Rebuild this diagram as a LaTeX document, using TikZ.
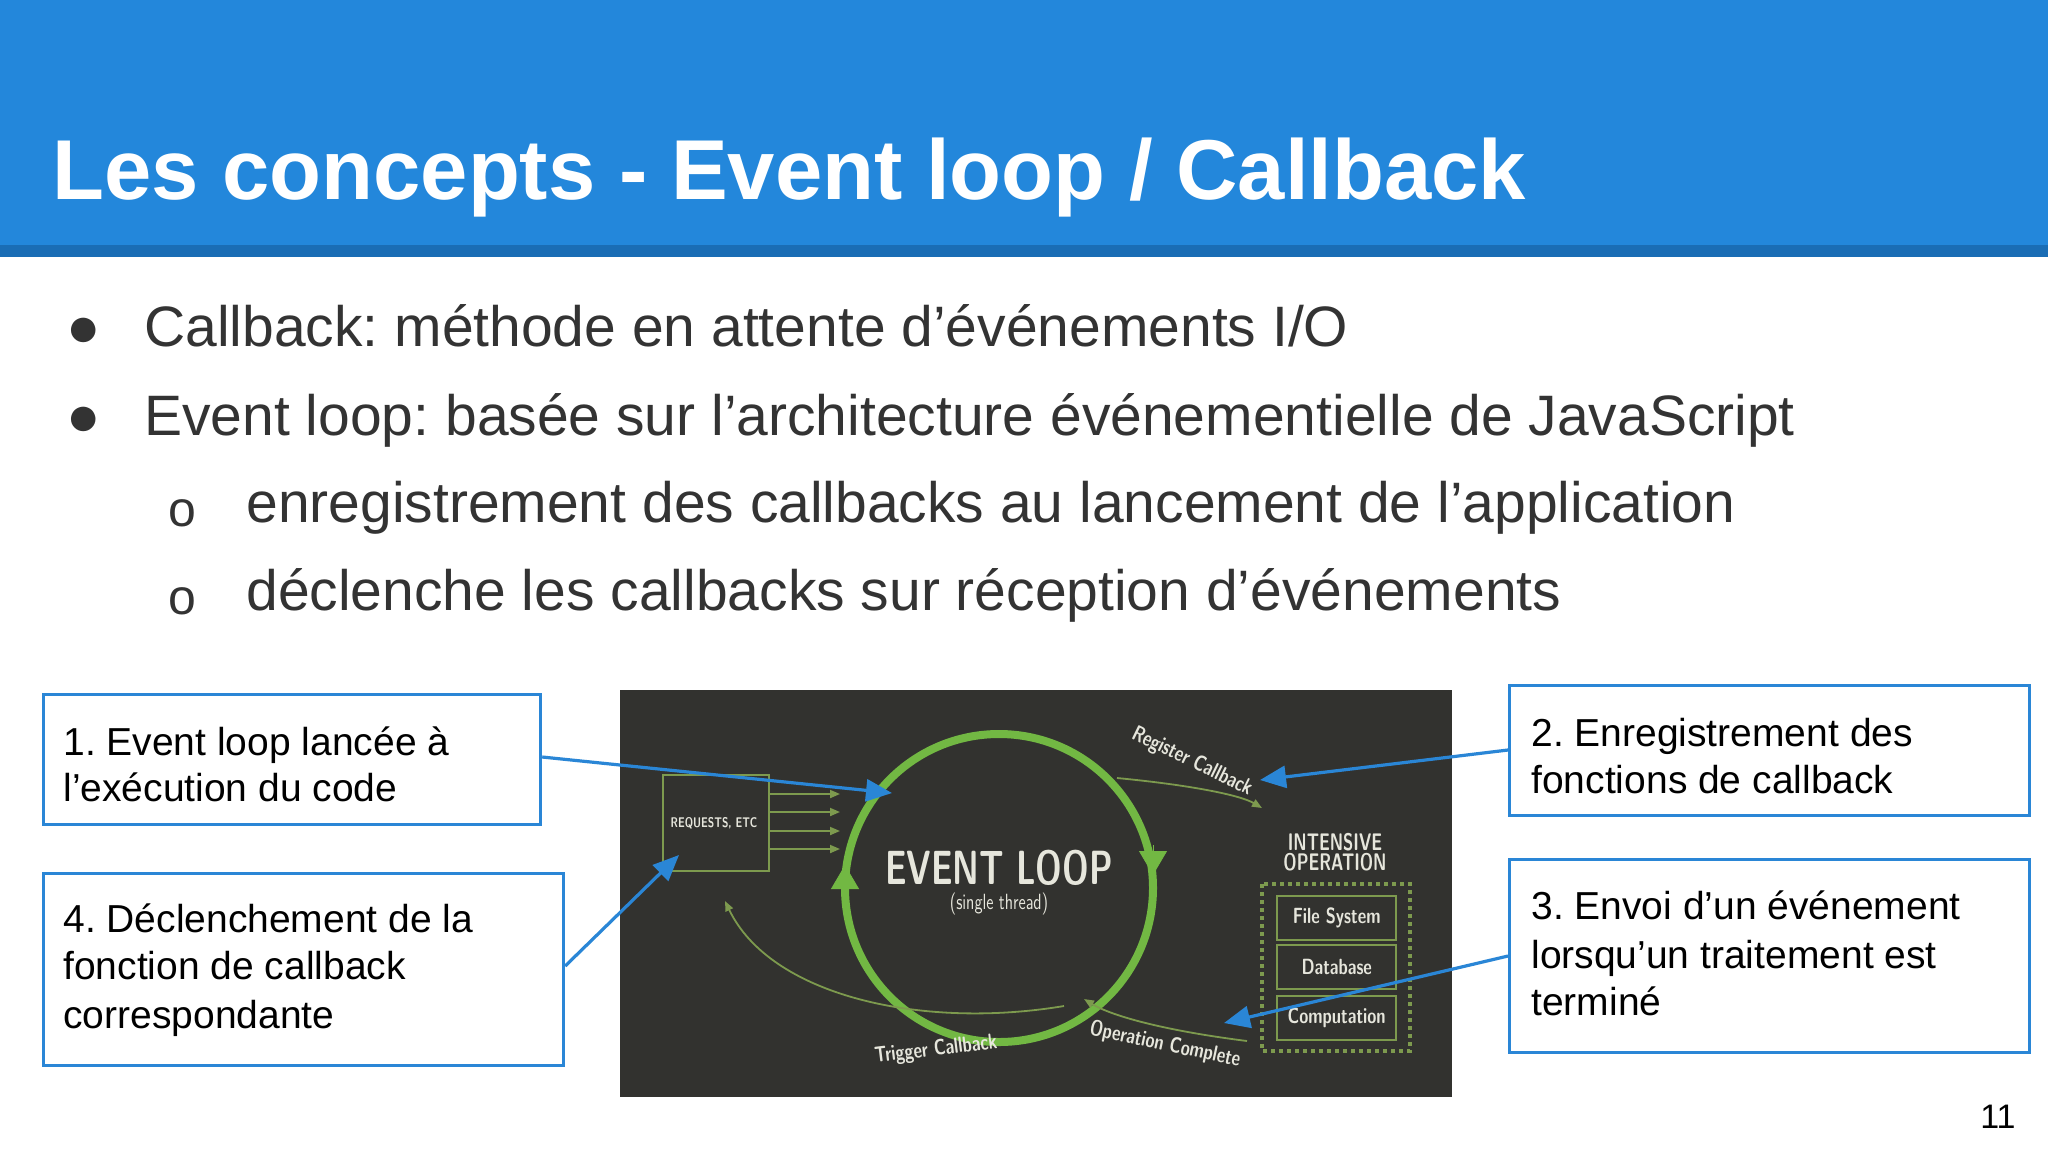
\documentclass[tikz,border=0pt]{standalone}
\usepackage{fontspec}
\setmainfont{Liberation Sans}
\usetikzlibrary{arrows.meta}
\frenchspacing
\definecolor{hdr}{HTML}{2387DB}
\definecolor{hdrdark}{HTML}{1A6DB5}
\definecolor{boxblue}{HTML}{2A86D6}
\definecolor{panel}{HTML}{32322F}
\definecolor{lgreen}{HTML}{72B843}
\definecolor{dgreen}{HTML}{7D9A4E}
\definecolor{ptext}{HTML}{E6E6DC}
\tikzset{
  x={(0.5pt,0)}, y={(0,-0.5pt)},
  note/.style={draw=boxblue, line width=1.6pt, anchor=north west, inner sep=0pt},
  notetext/.style={anchor=base west, font=\fontsize{19.5}{23}\selectfont, text=black, inner sep=0pt},
  callout/.style={draw=boxblue, line width=1.6pt, -{Triangle[length=13pt,width=11pt]}},
  body/.style={anchor=base west, font=\fontsize{28.5}{32}\selectfont, text=black!80, inner sep=0pt},
  subdot/.style={anchor=base west, font=\fontsize{25}{28}\selectfont, text=black!80, inner sep=0pt},
  ptxt/.style={text=ptext, font=\sffamily\bfseries},
  thin/.style={draw=dgreen, line width=0.9pt, -{Triangle[length=5pt,width=4pt]}},
}
\begin{document}
\begin{tikzpicture}
\useasboundingbox (0,0) rectangle (2048,1152);
\fill[white] (0,0) rectangle (2048,1152);
\fill[hdr] (0,0) rectangle (2048,245);
\fill[hdrdark] (0,245) rectangle (2048,257);
\node[anchor=base west, text=white, font=\fontsize{42.5}{48}\selectfont\bfseries, inner sep=0pt] (title) at (52,199) {Les concepts - Event loop / Callback};

\node[body] (d1) at (66,346) {●};
\node[body] (t1) at (144,346) {Callback: méthode en attente d’événements I/O};
\node[body] (d2) at (66,435) {●};
\node[body] (t2) at (144,435) {Event loop: basée sur l’architecture événementielle de JavaScript};
\node[subdot] (d3) at (168,526) {o};
\node[body] (t3) at (246,522) {enregistrement des callbacks au lancement de l’application};
\node[subdot] (d4) at (168,614) {o};
\node[body] (t4) at (246,610) {déclenche les callbacks sur réception d’événements};

% panel
\fill[panel] (620,690) rectangle (1452,1097);
\node[draw=dgreen, line width=1pt, minimum width=53pt, minimum height=48pt, anchor=north west, inner sep=0pt] (req) at (662,774) {};
\node[ptxt, font=\sffamily\bfseries\fontsize{7}{8}\selectfont] (reqt) at (714,823) {\scalebox{0.75}[1]{REQUESTS, ETC}};
\foreach \yy/\nm in {794/ra,812/rb,831/rc,849/rd} {
  \coordinate (\nm s) at (768,\yy); \coordinate (\nm e) at (840,\yy);
  \draw[thin] (\nm s) -- (\nm e);
}
\node[circle, draw=lgreen, line width=4pt, minimum size=154pt] (loop) at (999,888) {};
\draw[lgreen, -{Triangle[length=12pt,width=14pt]}] (1153,845) -- (1153,875);
\draw[lgreen, -{Triangle[length=12pt,width=14pt]}] (845,895) -- (845,865);
\node[ptxt, font=\sffamily\bfseries\fontsize{24}{26}\selectfont] (el) at (999,868) {\scalebox{0.7}[1]{EVENT LOOP}};
\node[ptxt, font=\sffamily\fontsize{11}{12}\selectfont] (st) at (999,904) {\scalebox{0.75}[1]{(single thread)}};
\node[ptxt, font=\sffamily\bfseries\fontsize{12}{13}\selectfont, align=center] (int) at (1335,852) {\scalebox{0.7}[1]{INTENSIVE}\\[-3pt]\scalebox{0.7}[1]{OPERATION}};
\draw[dgreen, line width=2pt, dotted] (1262,884) rectangle (1410,1051);
\foreach \yy/\lab/\nm in {895/File System/fs,944/Database/db,995/Computation/cp} {
  \node[draw=dgreen, line width=1.2pt, minimum width=59.5pt, minimum height=22pt, anchor=north west, inner sep=0pt] (\nm) at (1276,\yy) {};
  \node[ptxt, font=\sffamily\bfseries\fontsize{11}{12}\selectfont] at (\nm.center) {\scalebox{0.75}[1]{\lab}};
}
\coordinate (rcs) at (1117,778); \coordinate (rce) at (1262,808);
\draw[thin] (rcs) .. controls (1190,785) and (1240,795) .. (rce);
\node[ptxt, font=\sffamily\bfseries\fontsize{11}{12}\selectfont, rotate=-26] (rct) at (1192,762) {\scalebox{0.75}[1]{Register Callback}};
\coordinate (ocs) at (1247,1041); \coordinate (oce) at (1084,999);
\draw[thin] (ocs) .. controls (1160,1030) and (1110,1015) .. (oce);
\node[ptxt, font=\sffamily\bfseries\fontsize{11}{12}\selectfont, rotate=-12] (oct) at (1165,1045) {\scalebox{0.75}[1]{Operation Complete}};
\coordinate (tcs) at (1064,1006); \coordinate (tce) at (725,901);
\draw[thin] (tcs) .. controls (920,1030) and (770,995) .. (tce);
\node[ptxt, font=\sffamily\bfseries\fontsize{11}{12}\selectfont, rotate=7] (tct) at (936,1050) {\scalebox{0.75}[1]{Trigger Callback}};

% notes
\node[note, minimum width=248.5pt, minimum height=65pt] (b1) at (42,693) {};
\node[notetext] at (63,755) {1. Event loop lancée à};
\node[notetext] at (63,801) {l’exécution du code};
\node[note, minimum width=260pt, minimum height=96pt] (b4) at (42,872) {};
\node[notetext] at (63,932) {4. Déclenchement de la};
\node[notetext] at (63,979) {fonction de callback};
\node[notetext] at (63,1028) {correspondante};
\node[note, minimum width=260pt, minimum height=65pt] (b2) at (1508,684) {};
\node[notetext] at (1531,746) {2. Enregistrement des};
\node[notetext] at (1531,793) {fonctions de callback};
\node[note, minimum width=260pt, minimum height=96.5pt] (b3) at (1508,858) {};
\node[notetext] at (1531,919) {3. Envoi d’un événement};
\node[notetext] at (1531,968) {lorsqu’un traitement est};
\node[notetext] at (1531,1015) {terminé};
\node[anchor=base east, font=\fontsize{17}{20}\selectfont, inner sep=0pt] (pg) at (2016,1128) {11};

\coordinate (a1e) at (892,793); \coordinate (a2e) at (1260,780);
\coordinate (a3e) at (1224,1023); \coordinate (a4e) at (679,855);
\draw[callout] (b1.east |- 0,757) -- (a1e);
\draw[callout] (b2.west |- 0,750) -- (a2e);
\draw[callout] (b3.west |- 0,956) -- (a3e);
\draw[callout] (b4.east |- 0,966) -- (a4e);
\end{tikzpicture}
\end{document}
